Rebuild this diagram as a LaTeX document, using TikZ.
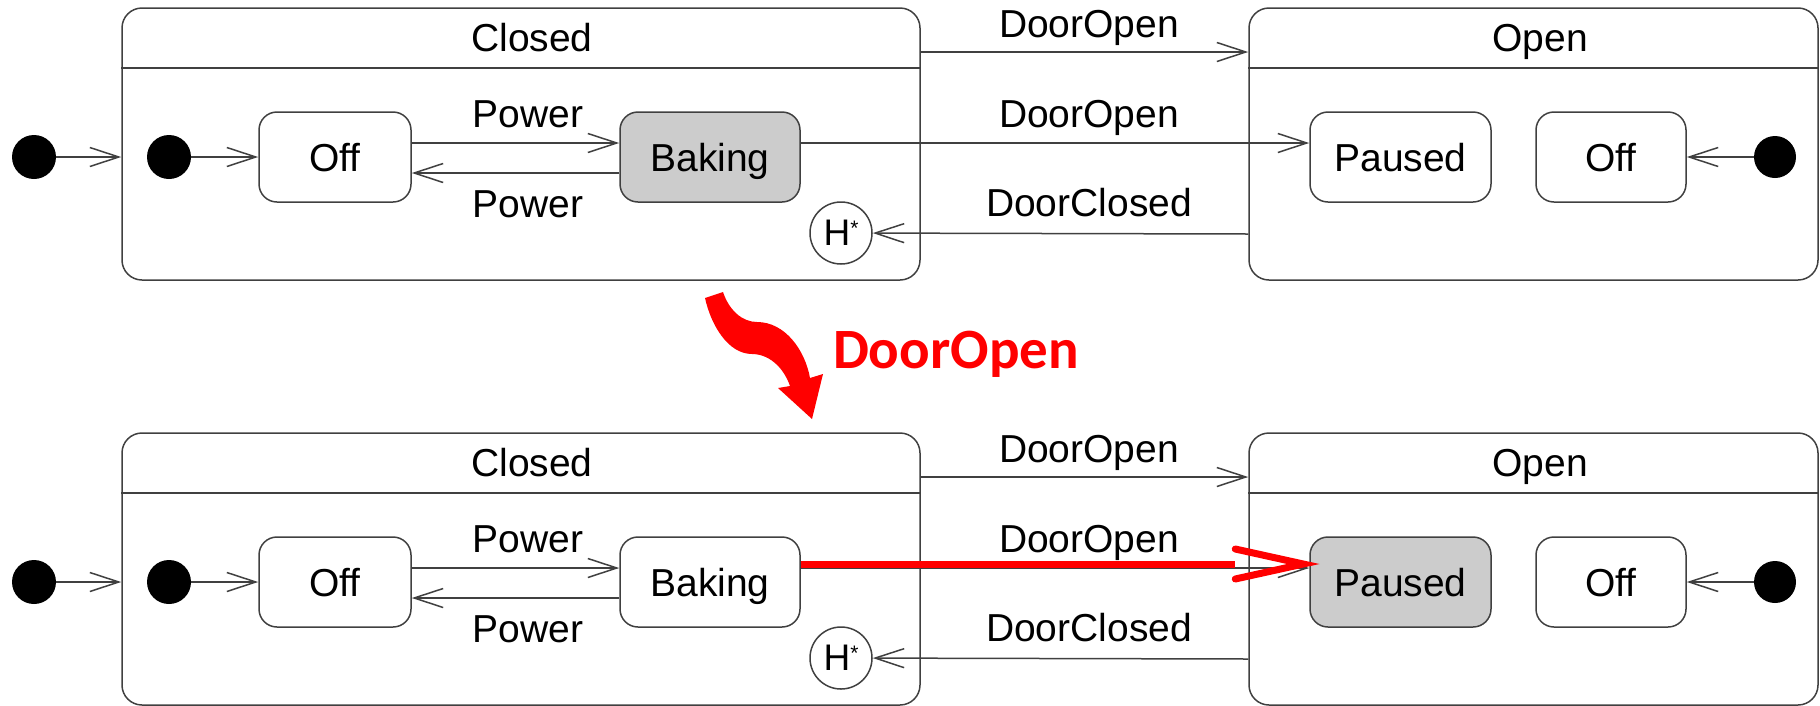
\documentclass[tikz,border=0pt]{standalone}
\usepackage{fontspec}
\setmainfont{Liberation Sans}
\newfontfamily\calibri{Carlito}
\usetikzlibrary{arrows.meta}

\begin{document}
\begin{tikzpicture}[x=1pt, y=-1pt,
	every node/.style={font=\fontsize{39}{46}\selectfont, text depth=0pt, inner sep=0pt},
	edge/.style={draw=black!75, line width=1.5pt},
	trans/.style={edge, -{Straight Barb[length=29pt, width=19pt]}},
	region/.style={edge, rounded corners=20pt, minimum height=272pt},
	state/.style={edge, rounded corners=18pt, minimum height=90pt},
	initial/.style={circle, fill=black, minimum size=44pt},
	history/.style={circle, edge, fill=white, minimum size=62pt, font=\fontsize{37}{44}\selectfont},
	fired/.style={draw=red, line width=7pt}]
	\useasboundingbox (0,0) rectangle (1820,705);
	\foreach \rw/\dy/\bk/\ps in {A/0/black!20/white, B/425/white/black!20} {
	\begin{scope}[shift={(0,\dy)}]
		% composite states and their header bars
		\node[region, minimum width=798pt] (closed\rw) at (521,144) {};
		\node[region, minimum width=569pt] (open\rw) at (1533.5,144) {};
		\draw[edge, line width=2.2pt] (closed\rw.west |- 0,68) -- (closed\rw.east |- 0,68);
		\draw[edge, line width=2.2pt] (open\rw.west |- 0,68) -- (open\rw.east |- 0,68);
		\node (tclosed\rw) at (532,37) {Closed};
		\node (topen\rw) at (1540,38) {Open};
		% substates
		\node[initial] (start\rw) at (34,157) {};
		\node[initial] (init\rw) at (169,157) {};
		\node[state, minimum width=152pt] (off\rw) at (335,157) {Off};
		\node[state, minimum width=180pt, fill=\bk] (baking\rw) at (710,157) {Baking};
		\node[history] (hist\rw) at (841,233) {H\raisebox{10pt}{\fontsize{21}{25}\selectfont *}};
		\node[state, minimum width=181pt, fill=\ps] (paused\rw) at (1400.5,157) {Paused};
		\node[state, minimum width=150pt] (idle\rw) at (1611,157) {Off};
		\node[initial, minimum size=42pt] (initO\rw) at (1775,157) {};
		% transitions
		\draw[trans] (start\rw) -- (start\rw -| closed\rw.west);
		\draw[trans] (init\rw) -- (off\rw);
		\draw[trans] ([yshift=14pt]off\rw.east) -- ([yshift=14pt]baking\rw.west);
		\draw[trans] ([yshift=-16pt]baking\rw.west) -- ([yshift=-16pt]off\rw.east);
		\draw[trans] ([yshift=92pt]closed\rw.east) -- ([yshift=92pt]open\rw.west);
		\draw[trans] ([yshift=14pt]baking\rw.east) -- ([yshift=14pt]paused\rw.west);
		\draw[trans] ([yshift=-90pt]open\rw.west) -- (hist\rw);
		\draw[trans] (initO\rw) -- (idle\rw);
		\node (pwon\rw) at (528,114) {Power};
		\node (pwoff\rw) at (528,204) {Power};
		\node (lopen\rw) at (1089,24) {DoorOpen};
		\node (lpause\rw) at (1089,114) {DoorOpen};
		\node (lclose\rw) at (1089,202) {DoorClosed};
	\end{scope}
	}
	% the fired transition, shaft ending at the back of its open head
	\coordinate (tipB) at ([xshift=-6pt, yshift=18pt]pausedB.west);
	\draw[fired] ([yshift=18pt]bakingB.east) -- ([xshift=-68pt]tipB);
	\draw[fired, line cap=round] ([xshift=-68pt, yshift=15pt]tipB) -- (tipB) -- ([xshift=-68pt, yshift=-15pt]tipB);
	% wavy step arrow between the two snapshots
	\fill[red] (705,298) .. controls (711,325) and (728,354) .. (752,354)
		.. controls (768,354) and (783,366) .. (790,386) -- (778,388) -- (812,419) -- (823,374) -- (810,378)
		.. controls (805,350) and (785,322) .. (757,322)
		.. controls (742,322) and (729,310) .. (723,292) -- cycle;
	\node[text=red, font=\calibri\bfseries\fontsize{57}{68}\selectfont] (event) at (956,350) {DoorOpen};
\end{tikzpicture}
\end{document}
